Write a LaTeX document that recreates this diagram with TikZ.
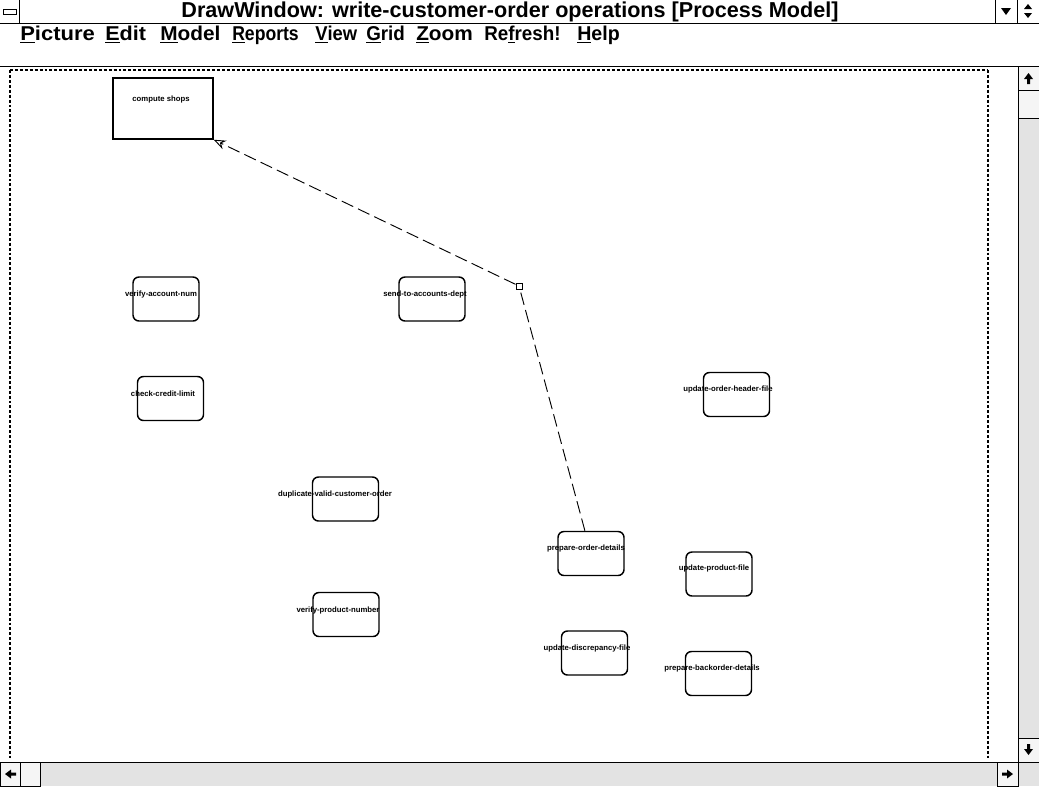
\documentclass[tikz,border=0pt]{standalone}
\usepackage{fontspec}
\setmainfont{Liberation Sans}
\usetikzlibrary{arrows.meta}
\begin{document}
\begin{tikzpicture}[x=0.75pt,y=-0.75pt,
  frame/.style={draw=black,line width=0.75pt},
  btn/.style={draw=black,line width=0.75pt,fill=gray!8},
  track/.style={fill=gray!22},
  proc/.style={draw=black,line width=1.1pt,rounded corners=4.5pt,minimum width=49.5pt,minimum height=33pt,inner sep=0pt},
  shopbox/.style={draw=black,line width=1.1pt,minimum width=75pt,minimum height=45.75pt,inner sep=0pt},
  lab/.style={font=\fontsize{5.8}{6}\selectfont\bfseries,inner sep=0pt},
  menuitem/.style={font=\fontsize{15}{16}\selectfont\bfseries,anchor=base west,inner sep=0pt},
  conn/.style={line width=0.7pt,dash pattern=on 9.5pt off 4pt},
  page/.style={line width=0.9pt,dash pattern=on 2.2pt off 1.5pt}]
\useasboundingbox (0,0) rectangle (1039,786);
\fill[white] (0,0) rectangle (1039,786);

% ---- title bar ----
\draw[frame] (0,23) -- (1039,23);
\draw[frame] (19,0) -- (19,23);
\draw[frame,fill=white] (3,9) rectangle (16,14);
\draw[frame] (995,0) -- (995,23);
\draw[frame] (1017,0) -- (1017,23);
\fill (1001,8) -- (1011,8) -- (1006,15) -- cycle;
\fill (1024,9) -- (1032,9) -- (1028,4) -- cycle;
\fill (1024,13) -- (1032,13) -- (1028,18) -- cycle;
\node[font=\fontsize{16.2}{17}\selectfont\bfseries,inner sep=0pt] (title) at (510,11.5)
  {DrawWindow: write-customer-order operations [Process Model]};

% ---- menu bar ----
\node[menuitem] (mPicture) at (20,40) {\scalebox{1.1}[1]{\underline{P}icture}};
\node[menuitem] (mEdit) at (105,40) {\scalebox{1.08}[1]{\underline{E}dit}};
\node[menuitem] (mModel) at (160,40) {\scalebox{1.04}[1]{\underline{M}odel}};
\node[menuitem] (mReports) at (232,40) {\scalebox{0.88}[1]{\underline{R}eports}};
\node[menuitem] (mView) at (315,40) {\scalebox{0.92}[1]{\underline{V}iew}};
\node[menuitem] (mGrid) at (366,40) {\scalebox{0.94}[1]{\underline{G}rid}};
\node[menuitem] (mZoom) at (416,40) {\scalebox{1.04}[1]{\underline{Z}oom}};
\node[menuitem] (mRefresh) at (484,40) {\scalebox{0.94}[1]{Re\underline{f}resh!}};
\node[menuitem] (mHelp) at (577,40) {\scalebox{0.98}[1]{\underline{H}elp}};
\draw[frame] (0,66) -- (1039,66);

% ---- page outline ----
\draw[page] (10,70) -- (988,70);
\draw[page] (10,70) -- (10,758);
\draw[page] (988,70) -- (988,758);

% ---- vertical scroll bar ----
\fill[track] (1018,66) rectangle (1039,762);
\draw[frame] (1018,66) -- (1018,762);
\draw[btn] (1018,66) rectangle (1039,90);
\draw[btn] (1018,90) rectangle (1039,118);
\draw[btn] (1018,738) rectangle (1039,762);
\fill (1028.5,73) -- (1033,79) -- (1030,79) -- (1030,84) -- (1027,84) -- (1027,79) -- (1024,79) -- cycle;
\fill (1028.5,755) -- (1033,749) -- (1030,749) -- (1030,744) -- (1027,744) -- (1027,749) -- (1024,749) -- cycle;

% ---- horizontal scroll bar ----
\fill[track] (0,762) rectangle (1039,786);
\draw[frame] (0,762) -- (1039,762);
\draw[btn] (0,762) rectangle (20,786);
\draw[btn] (20,762) rectangle (40,786);
\draw[btn] (997,762) rectangle (1018,786);
\draw[frame] (1018,762) -- (1018,786);
\fill (5,774) -- (11,769.5) -- (11,772.5) -- (16,772.5) -- (16,775.5) -- (11,775.5) -- (11,778.5) -- cycle;
\fill (1013,774) -- (1007,769.5) -- (1007,772.5) -- (1002,772.5) -- (1002,775.5) -- (1007,775.5) -- (1007,778.5) -- cycle;

% ---- process model ----
\node[shopbox] (cs) at (163,108.5) {};
\node[lab] (csL) at (161,99) {compute shops};

\node[proc] (van) at (166,299) {};
\node[lab] (vanL) at (161,294) {verify-account-num};
\node[proc] (sad) at (432,299) {};
\node[lab] (sadL) at (425,294) {send-to-accounts-dept};
\node[proc] (ccl) at (170.5,398.5) {};
\node[lab] (cclL) at (163,394) {check-credit-limit};
\node[proc] (uohf) at (736.5,394.5) {};
\node[lab] (uohfL) at (728,389) {update-order-header-file};
\node[proc] (dvco) at (345.5,499) {};
\node[lab] (dvcoL) at (335,494) {duplicate-valid-customer-order};
\node[proc] (pod) at (591,553.5) {};
\node[lab] (podL) at (586,548) {prepare-order-details};
\node[proc] (upf) at (719,574) {};
\node[lab] (upfL) at (714,568) {update-product-file};
\node[proc] (vpn) at (346,614.5) {};
\node[lab] (vpnL) at (338,610) {verify-product-number};
\node[proc] (udf) at (594.5,653) {};
\node[lab] (udfL) at (587,648) {update-discrepancy-file};
\node[proc] (pbd) at (718.5,673.5) {};
\node[lab] (pbdL) at (712,668) {prepare-backorder-details};

% bend handle on the link
\node[draw=black,line width=0.75pt,fill=white,minimum size=4.5pt,inner sep=0pt] (bend) at (519,286) {};

\draw[conn] (pod) -- (bend);
\draw[conn,-{Stealth[open,length=9pt,width=7pt]}] (bend) -- (cs.south east);
\end{tikzpicture}
\end{document}
